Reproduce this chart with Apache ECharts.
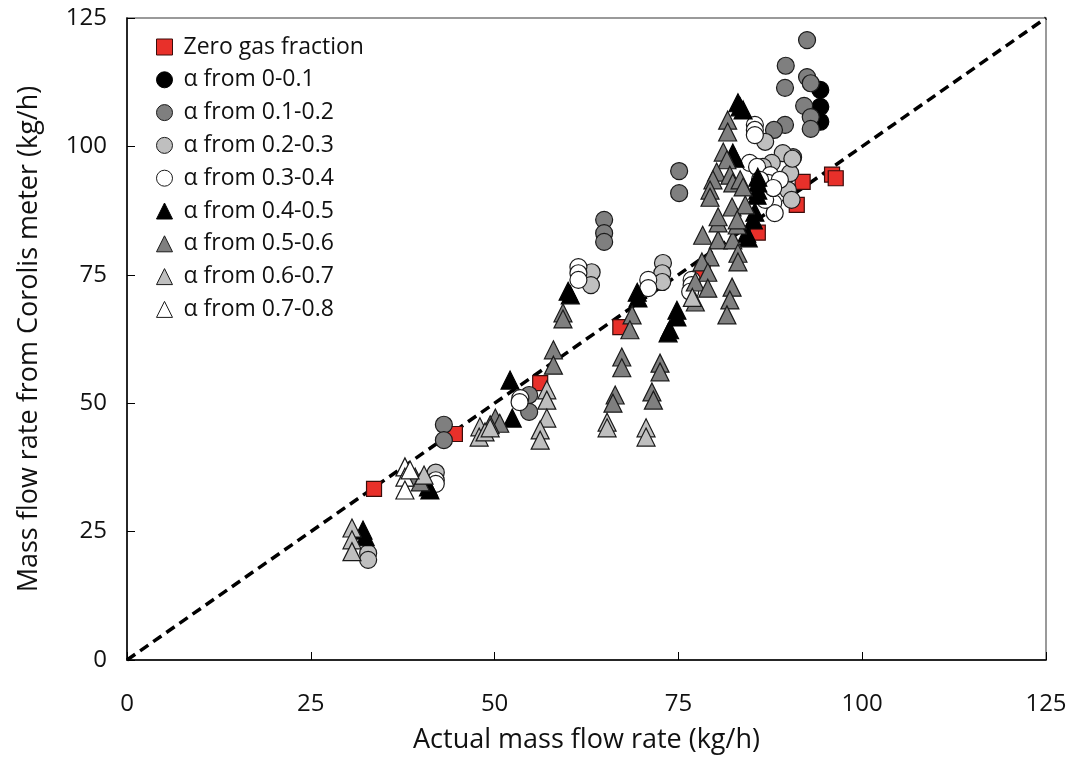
<!DOCTYPE html>
<html>
<head>
<meta charset="utf-8">
<script src="https://cdn.jsdelivr.net/npm/echarts@6/dist/echarts.min.js"></script>
<style>
  html, body { margin: 0; padding: 0; background: #fff; }
  #chart { width: 1078px; height: 759px; }
</style>
</head>
<body>
<div id="chart"></div>
<script>
// Axis ticks
const axisTicks = [0, 25, 50, 75, 100, 125];

// [actual mass flow, Coriolis reading] pairs, kg/h
const zeroGas = [
  [33.6, 33.3], [44.6, 44.0], [56.2, 53.9], [67.1, 64.8], [78.3, 75.4],
  [85.8, 83.2], [91.1, 88.6], [91.9, 93.1], [95.9, 94.5], [96.4, 93.8]
];
const alpha00_01 = [
  [94.3, 111.0], [94.3, 107.7], [94.3, 104.8]
];
const alpha01_02 = [
  [92.5, 120.7], [89.6, 115.7], [89.5, 111.4], [92.5, 113.5], [93.0, 112.3],
  [92.1, 107.9], [93.0, 105.7], [93.0, 103.4], [89.5, 104.2], [88.0, 103.2],
  [75.1, 95.2], [75.1, 90.9], [64.9, 85.7], [64.9, 83.1], [64.9, 81.4],
  [43.1, 45.8], [43.1, 42.8], [54.7, 51.6], [54.7, 48.3], [90.6, 97.9]
];
const alpha02_03 = [
  [32.8, 20.8], [32.8, 19.5], [63.2, 75.5], [63.1, 73.0], [72.9, 77.3],
  [72.8, 75.3], [72.8, 73.6], [86.8, 100.9], [89.2, 98.7], [87.7, 96.8],
  [86.5, 96.0], [90.2, 94.8], [89.9, 91.5], [90.4, 89.6], [90.5, 97.6],
  [42.0, 36.5]
];
const alpha03_04 = [
  [61.4, 76.5], [61.4, 75.3], [61.4, 74.0], [70.9, 74.0], [70.9, 72.4],
  [76.8, 74.0], [76.8, 73.0], [76.6, 71.7], [53.5, 51.0], [53.4, 50.2],
  [42.0, 35.0], [42.0, 34.3],
  [85.4, 104.2], [85.4, 103.2], [85.4, 102.2], [84.7, 96.8], [85.7, 96.0],
  [87.5, 94.4], [87.2, 92.9], [87.0, 90.9], [87.9, 89.0], [88.1, 87.0],
  [86.8, 89.6], [88.8, 93.5], [86.1, 93.5], [87.9, 91.9]
];
const alpha04_05 = [
  [32.1, 25.3], [32.4, 24.0], [41.2, 33.1], [41.0, 33.7], [52.1, 54.5],
  [52.4, 47.1], [60.0, 71.8], [60.3, 71.1], [69.4, 71.6], [69.5, 70.5],
  [74.8, 68.1], [74.8, 66.8], [73.6, 63.7], [73.8, 64.3],
  [83.1, 108.5], [83.8, 107.1], [83.4, 107.7], [82.4, 98.7], [82.7, 97.7],
  [85.8, 94.0], [85.8, 92.9], [85.8, 91.5], [85.7, 90.5], [85.4, 87.2],
  [85.2, 85.7], [84.5, 82.2], [84.3, 83.1]
];
const alpha05_06 = [
  [39.2, 35.6], [39.9, 34.7], [50.1, 47.1], [50.7, 46.1], [49.4, 45.8],
  [58.0, 60.4], [58.0, 57.4], [59.3, 67.6], [59.3, 66.4], [68.7, 67.2],
  [68.4, 64.3], [67.3, 59.0], [67.3, 56.9], [66.4, 51.6], [66.1, 50.0],
  [72.5, 57.8], [72.5, 56.1], [71.4, 52.2], [71.6, 50.6],
  [78.3, 82.7], [80.4, 81.8], [79.3, 78.5], [78.2, 77.5], [79.0, 75.5],
  [77.3, 73.6], [79.0, 72.4], [77.3, 69.7], [82.3, 72.6], [82.0, 70.1],
  [81.6, 67.2], [82.4, 81.8], [83.1, 79.2], [83.1, 77.5], [80.4, 85.1],
  [83.0, 84.7], [81.7, 105.1], [81.7, 102.8], [81.1, 98.9], [81.6, 97.4],
  [80.2, 95.0], [79.7, 93.5], [79.3, 91.5], [79.3, 90.1], [82.0, 94.4],
  [82.4, 92.9], [83.4, 93.5], [82.3, 88.2], [84.1, 88.6], [80.4, 86.3],
  [83.0, 85.7], [83.8, 92.1]
];
const alpha06_07 = [
  [30.6, 25.7], [30.6, 23.4], [30.6, 21.1], [48.0, 45.4], [47.9, 43.4],
  [48.7, 44.4], [49.4, 45.2], [57.1, 52.6], [57.1, 50.6], [57.1, 47.1],
  [56.2, 44.8], [56.2, 42.8], [65.3, 46.3], [65.3, 45.2], [70.6, 45.2],
  [70.6, 43.4], [40.4, 36.0], [76.9, 70.6]
];
const alpha07_08 = [
  [37.8, 37.6], [37.8, 35.6], [37.8, 33.1], [38.5, 37.0]
];
const parityLine = [[0, 0], [125, 125]];

const seriesDefs = [
  { name: 'Zero gas fraction', data: zeroGas, symbol: 'rect', size: 15, color: '#e8302a', border: '#3a0d0b' },
  { name: 'α from 0-0.1', data: alpha00_01, symbol: 'circle', size: 17, color: '#000000', border: '#000000' },
  { name: 'α from 0.1-0.2', data: alpha01_02, symbol: 'circle', size: 17, color: '#7f7f7f', border: '#1a1a1a' },
  { name: 'α from 0.2-0.3', data: alpha02_03, symbol: 'circle', size: 17, color: '#bfbfbf', border: '#1a1a1a' },
  { name: 'α from 0.3-0.4', data: alpha03_04, symbol: 'circle', size: 17, color: '#ffffff', border: '#1a1a1a' },
  { name: 'α from 0.4-0.5', data: alpha04_05, symbol: 'triangle', size: 18, color: '#000000', border: '#000000' },
  { name: 'α from 0.5-0.6', data: alpha05_06, symbol: 'triangle', size: 18, color: '#7f7f7f', border: '#1a1a1a' },
  { name: 'α from 0.6-0.7', data: alpha06_07, symbol: 'triangle', size: 18, color: '#bfbfbf', border: '#1a1a1a' },
  { name: 'α from 0.7-0.8', data: alpha07_08, symbol: 'triangle', size: 18, color: '#ffffff', border: '#1a1a1a' }
];

const FONT = '"Open Sans", "Noto Sans", sans-serif';

const chart = echarts.init(document.getElementById('chart'));

const series = [{
  type: 'line',
  data: parityLine,
  symbol: 'none',
  silent: true,
  lineStyle: { color: '#000', width: 3.5, type: [10, 6] },
  z: 1
}].concat(seriesDefs.map((s, i) => ({
  name: s.name,
  type: 'scatter',
  data: s.data,
  symbol: s.symbol,
  symbolSize: s.size,
  itemStyle: { color: s.color, borderColor: s.border, borderWidth: 1.2, opacity: 1 },
  z: 2 + i
})));

chart.setOption({
  animation: false,
  backgroundColor: '#fff',
  grid: {
    left: 127, right: 32, top: 18, bottom: 99,
    show: true, borderColor: '#7a7a7a', borderWidth: 1.5, backgroundColor: 'transparent'
  },
  legend: {
    orient: 'vertical',
    left: 151, top: 28,
    itemGap: 4.8,
    itemWidth: 16, itemHeight: 16,
    data: seriesDefs.map((s) => ({
      name: s.name,
      icon: s.symbol,
      itemStyle: { color: s.color, borderColor: s.border, borderWidth: 1 }
    })),
    textStyle: { fontFamily: FONT, fontSize: 23, lineHeight: 28, color: '#111', padding: [0, 0, 0, 6] }
  },
  xAxis: {
    type: 'value',
    min: 0, max: 125, interval: 25,
    name: 'Actual mass flow rate (kg/h)',
    nameLocation: 'middle', nameGap: 67,
    nameTextStyle: { fontFamily: FONT, fontSize: 27, color: '#111' },
    axisLine: { lineStyle: { color: '#000', width: 1.5 } },
    axisTick: { inside: true, length: 8, lineStyle: { color: '#000', width: 1 } },
    axisLabel: { fontFamily: FONT, fontSize: 24, color: '#111', margin: 32,
      formatter: (v) => axisTicks.includes(v) ? String(v) : '' },
    splitLine: { show: false }
  },
  yAxis: {
    type: 'value',
    min: 0, max: 125, interval: 25,
    name: 'Mass flow rate from Corolis meter (kg/h)',
    nameLocation: 'middle', nameGap: 84,
    nameTextStyle: { fontFamily: FONT, fontSize: 27, color: '#111' },
    axisLine: { lineStyle: { color: '#000', width: 1.5 } },
    axisTick: { inside: true, length: 8, lineStyle: { color: '#000', width: 1 } },
    axisLabel: { fontFamily: FONT, fontSize: 24, color: '#111', margin: 20,
      formatter: (v) => axisTicks.includes(v) ? String(v) : '' },
    splitLine: { show: false }
  },
  series: series
});
</script>
</body>
</html>
